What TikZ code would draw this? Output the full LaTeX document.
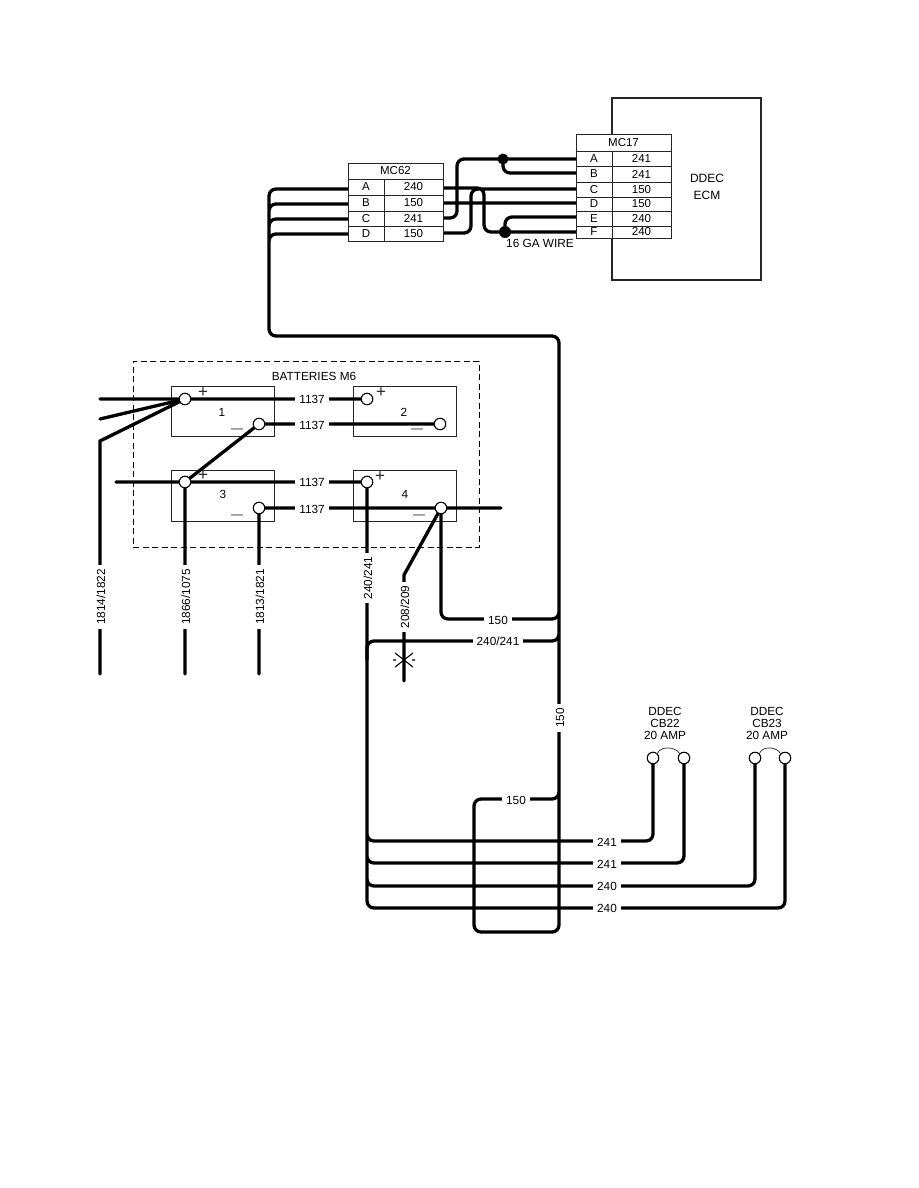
\documentclass[tikz,border=0pt]{standalone}
\usepackage{fontspec}
\setmainfont{Liberation Sans}
\newcommand{\tcell}[6]{\node[cellbox,minimum width=#4pt,minimum height=#5pt] (#1) at ({#2+#4/2},{#3+#5/2}) {\raisebox{-1.2pt}{#6}};}
\tikzset{
  wire/.style={line width=3.3pt,rounded corners=7pt,line cap=round,black},
  thinbox/.style={draw=black!85,line width=1pt,fill=white,inner sep=0pt,anchor=center},
  cellbox/.style={draw=black!85,line width=1pt,fill=white,inner sep=0pt,anchor=center,font=\fontsize{11.5}{11.5}\selectfont},
  term/.style={circle,draw=black,line width=1.1pt,fill=white,minimum size=11.5pt,inner sep=0pt},
  wlabel/.style={fill=white,inner xsep=4pt,inner ysep=1pt,font=\fontsize{11.8}{11.8}\selectfont},
  txt/.style={inner sep=0pt,font=\fontsize{11.8}{11.8}\selectfont,black},
  sign/.style={inner sep=0pt,font=\fontsize{17}{17}\selectfont,black!85},
  dot/.style={circle,fill=black,inner sep=0pt,minimum size=11pt},
}
\begin{document}
\begin{tikzpicture}[x=1pt,y=-1pt]
\useasboundingbox[fill=white] (0,0) rectangle (918,1188);
% ---- ECM
\node[thinbox,line width=1.1pt,minimum width=149pt,minimum height=182pt] (ecm) at (686.5,189) {};
\node[txt,font=\fontsize{12}{12}\selectfont] (ecm1) at (707,178) {DDEC};
\node[txt,font=\fontsize{12}{12}\selectfont] (ecm2) at (707,195) {ECM};
% ---- coordinates
\coordinate (a62) at (443,188);
\coordinate (b62) at (443,203);
\coordinate (c62) at (443,218);
\coordinate (d62) at (443,233);
\coordinate (la62) at (348,189);
\coordinate (lb62) at (348,204);
\coordinate (lc62) at (348,219);
\coordinate (ld62) at (348,234);
\coordinate (a17) at (576,159);
\coordinate (b17) at (576,173);
\coordinate (c17) at (576,189);
\coordinate (d17) at (576,203);
\coordinate (e17) at (576,217);
\coordinate (f17) at (576,232);
\node[dot] (j1) at (503,159) {};
\node[dot,minimum size=12pt] (j2) at (505,232) {};
% ---- wires between connectors
\draw[wire] (c62) -- (457,218) -- (457,159) -- (j1.center) -- (a17)
  (j1.center) -- (503,173) -- (b17)
  (d62) -- (471,233) -- (471,189) -- (c17)
  (b62) -- (d17)
  (a62) -- (484,188) -- (484,232) -- (f17)
  (j2.center) -- (505,217) -- (e17);
% ---- batteries
\node[draw=black,line width=.9pt,dash pattern=on 6pt off 3.5pt,minimum width=346pt,minimum height=186pt,inner sep=0pt] (batt) at (306,454) {};
\node[txt] (battl) at (314,376) {BATTERIES M6};
\node[thinbox,minimum width=103pt,minimum height=50pt] (b1) at (222.5,411) {};
\node[thinbox,minimum width=103pt,minimum height=50pt] (b2) at (404.5,411) {};
\node[thinbox,minimum width=103pt,minimum height=51pt] (b3) at (222.5,495.5) {};
\node[thinbox,minimum width=103pt,minimum height=51pt] (b4) at (404.5,495.5) {};
\node[txt] (n1) at (222,412) {1};
\node[txt] (n2) at (404,412) {2};
\node[txt] (n3) at (223,494) {3};
\node[txt] (n4) at (405,494) {4};
\node[sign] (p1) at (203,393) {+};
\node[sign] (p2) at (381,393) {+};
\node[sign] (p3) at (203,476) {+};
\node[sign] (p4) at (380,477) {+};
\node[sign,font=\fontsize{12}{12}\selectfont] (m1) at (237,430.5) {—};
\node[sign,font=\fontsize{12}{12}\selectfont] (m2) at (417,431) {—};
\node[sign,font=\fontsize{12}{12}\selectfont] (m3) at (237,516.5) {—};
\node[sign,font=\fontsize{12}{12}\selectfont] (m4) at (419,516.5) {—};
% ---- free ends
\coordinate (e1) at (100,399);
\coordinate (e2) at (100,419);
\coordinate (e3) at (100,441);
\coordinate (e3b) at (100,674);
\coordinate (e4) at (116,482);
\coordinate (e5) at (185,674);
\coordinate (e6) at (259,674);
\coordinate (e7) at (501,508);
\coordinate (e8) at (404,681);
\coordinate (t1pc) at (185,399);
\coordinate (t1nc) at (259,424);
\coordinate (t2pc) at (367,399);
\coordinate (t2nc) at (440,424);
\coordinate (t3pc) at (185,482);
\coordinate (t3nc) at (259,508);
\coordinate (t4pc) at (367,482);
\coordinate (t4nc) at (441,508);
\coordinate (cb1) at (653,758);
\coordinate (cb2) at (684,758);
\coordinate (cb3) at (755,758);
\coordinate (cb4) at (785,758);
% ---- trunk and its branches, as one stroke
\draw[wire] (la62) -- (269,189) -- (269,336) -- (559,336) -- (559,932) -- (474,932) -- (474,799) -- (559,799) -- (559,785)
  (lb62) -- (269,204) -- (269,230)
  (lc62) -- (269,219) -- (269,240)
  (ld62) -- (269,234) -- (269,250)
  (t4nc) -- (441,619) -- (559,619) -- (559,605)
  (367,660) -- (367,641) -- (559,641) -- (559,628);
% ---- battery wires
\draw[wire] (e1) -- (t1pc) (t1pc) -- (t2pc) (t1nc) -- (t2nc) (e4) -- (t4pc) (t3nc) -- (e7)
  (t1nc) -- (t3pc) (t3pc) -- (e5) (t3nc) -- (e6);
\draw[wire,rounded corners=0pt] (e2) -- (t1pc) (e3b) -- (e3) -- (t1pc) (t4nc) -- (404,575) -- (e8);
% ---- 240/241 bus with its branches, as one stroke
\draw[wire] (t4pc) -- (367,895)
  (367,825) -- (367,841) -- (653,841) -- (cb1)
  (367,850) -- (367,863) -- (684,863) -- (cb2)
  (367,870) -- (367,886) -- (755,886) -- (cb3)
  (367,890) -- (367,908) -- (785,908) -- (cb4);
% ---- star
\draw[line width=1.1pt,black] (395,653) -- (413,667) (395,667) -- (413,653)
  (393,660) -- (396,660) (412,660) -- (415,660);
% ---- terminals
\node[term] (t1p) at (t1pc) {};
\node[term] (t1n) at (t1nc) {};
\node[term] (t2p) at (t2pc) {};
\node[term] (t2n) at (t2nc) {};
\node[term] (t3p) at (t3pc) {};
\node[term] (t3n) at (t3nc) {};
\node[term] (t4p) at (t4pc) {};
\node[term] (t4n) at (t4nc) {};
\node[term] (c1) at (cb1) {};
\node[term] (c2) at (cb2) {};
\node[term] (c3) at (cb3) {};
\node[term] (c4) at (cb4) {};
\draw[line width=.7pt,black!85] (c1.north east) .. controls (660,746) and (675,746) .. (c2.north west);
\draw[line width=.7pt,black!85] (c3.north east) .. controls (762,746) and (776,746) .. (c4.north west);
% ---- wire labels
\node[wlabel] (l1) at (312,399) {1137};
\node[wlabel] (l2) at (312,425) {1137};
\node[wlabel] (l3) at (312,482) {1137};
\node[wlabel] (l4) at (312,509) {1137};
\node[wlabel,rotate=90] (l5) at (101,597) {1814/1822};
\node[wlabel,rotate=90] (l6) at (186,597) {1866/1075};
\node[wlabel,rotate=90] (l7) at (260,597) {1813/1821};
\node[wlabel,rotate=90] (l8) at (368,578) {240/241};
\node[wlabel,rotate=90] (l9) at (405,607) {208/209};
\node[wlabel] (l10) at (498,620) {150};
\node[wlabel] (l11) at (498,641) {240/241};
\node[wlabel,rotate=90] (l12) at (560,718) {150};
\node[wlabel] (l13) at (516,800) {150};
\node[wlabel] (l14) at (607,842) {241};
\node[wlabel] (l15) at (607,864) {241};
\node[wlabel] (l16) at (607,886) {240};
\node[wlabel] (l17) at (607,908) {240};
% ---- CB labels
\node[txt] (cb1a) at (665,711) {DDEC};
\node[txt] (cb1b) at (665,723) {CB22};
\node[txt] (cb1c) at (665,735) {20 AMP};
\node[txt] (cb2a) at (767,711) {DDEC};
\node[txt] (cb2b) at (767,723) {CB23};
\node[txt] (cb2c) at (767,735) {20 AMP};
\node[txt] (ga) at (540,243) {16 GA WIRE};
% ---- connector tables
\tcell{m62t}{348}{163}{95}{16}{MC62}
\tcell{m62A}{348}{179}{36}{16}{A}
\tcell{m62Av}{384}{179}{59}{16}{240}
\tcell{m62B}{348}{195}{36}{16}{B}
\tcell{m62Bv}{384}{195}{59}{16}{150}
\tcell{m62C}{348}{211}{36}{15}{C}
\tcell{m62Cv}{384}{211}{59}{15}{241}
\tcell{m62D}{348}{226}{36}{15}{D}
\tcell{m62Dv}{384}{226}{59}{15}{150}
\tcell{m17t}{576}{135}{95}{16}{MC17}
\tcell{m17A}{576}{151}{36}{15}{A}
\tcell{m17Av}{612}{151}{59}{15}{241}
\tcell{m17B}{576}{166}{36}{16}{B}
\tcell{m17Bv}{612}{166}{59}{16}{241}
\tcell{m17C}{576}{182}{36}{15}{C}
\tcell{m17Cv}{612}{182}{59}{15}{150}
\tcell{m17D}{576}{197}{36}{14}{D}
\tcell{m17Dv}{612}{197}{59}{14}{150}
\tcell{m17E}{576}{211}{36}{15}{E}
\tcell{m17Ev}{612}{211}{59}{15}{240}
\tcell{m17F}{576}{226}{36}{12}{F}
\tcell{m17Fv}{612}{226}{59}{12}{240}
\end{tikzpicture}
\end{document}
